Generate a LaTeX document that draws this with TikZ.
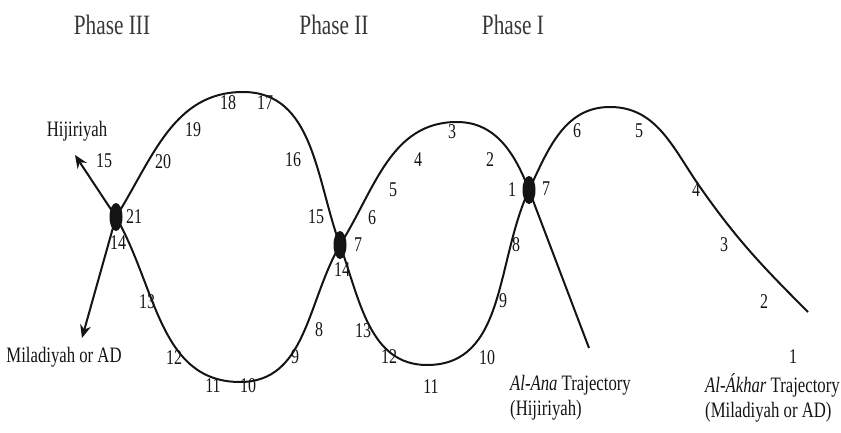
\documentclass[tikz,border=0pt]{standalone}
\usepackage{fontspec}
\setmainfont{Liberation Serif}[FakeStretch=0.76]
\usetikzlibrary{shapes.geometric,arrows.meta}
\usepackage{xcolor}
\definecolor{inkblack}{RGB}{20,20,20}
\tikzset{
    junction/.style={
        ellipse,
        fill=inkblack,
        inner sep=0pt,
        minimum width=13pt,
        minimum height=28pt
    },
    steplabel/.style={
        font=\fontsize{21}{24}\selectfont,
        text=inkblack,
        inner sep=0pt
    },
    phasetitle/.style={
        font=\fontsize{28}{32}\selectfont,
        text=inkblack!85
    },
    sidelabel/.style={
        font=\fontsize{22}{26}\selectfont,
        text=inkblack,
        inner sep=0pt
    },
    trajectory/.style={
        draw=inkblack,
        line width=2pt
    },
    exitarrow/.style={
        trajectory,
        -{Stealth[length=13pt,width=11pt]}
    }
}

\begin{document}
\begin{tikzpicture}[x=1pt,y=1pt]
\useasboundingbox (0,0) rectangle (841,432);

% ---------------------------------------------------------
% Phase titles
% ---------------------------------------------------------
\foreach \name/\x [count=\i] in {Phase III/112, Phase II/334, Phase I/513}
{
    \node[phasetitle] (phase\i) at (\x,407) {\name};
}

% ---------------------------------------------------------
% Junctions and turning points
% ---------------------------------------------------------
\node[junction] (nodeL) at (116,215) {};
\node[junction] (nodeM) at (340,187) {};
\node[junction] (nodeR) at (529,242) {};

\coordinate (topL) at (243,340);
\coordinate (botL) at (240,50);
\coordinate (topM) at (457,310);
\coordinate (botM) at (427,67);
\coordinate (topR) at (610,325);
\coordinate (bendR) at (700,245);
\coordinate (anaStart) at (589,84);
\coordinate (akharStart) at (808,120);
\coordinate (hijEnd) at (75,277);
\coordinate (milEnd) at (82,94);

% ---------------------------------------------------------
% Trajectories
% ---------------------------------------------------------

% Al-Ana: from bottom right up through the three junctions
\draw[exitarrow] (anaStart) -- (nodeR.center)
    to[out=111,in=0] (topM)
    to[out=180,in=58] (nodeM.center)
    to[out=240,in=0] (botL)
    to[out=180,in=-60] (nodeL.center)
    -- (hijEnd);

% Al-Akhar
\draw[exitarrow] (akharStart)
    to[out=135,in=-55] (bendR)
    to[out=125,in=0] (topR)
    to[out=180,in=65] (nodeR.center)
    to[out=245,in=0] (botM)
    to[out=180,in=-70] (nodeM.center)
    to[out=110,in=0] (topL)
    to[out=180,in=58] (nodeL.center)
    -- (milEnd);

% ---------------------------------------------------------
% Step numbers
% ---------------------------------------------------------
\foreach \x/\y [count=\i] in {
    793/75,
    764/130,
    724/187,
    696/242,
    639/301,
    577/301,
    546/243,
    516/187,
    503/131,
    487/74,
    431/45,
    389/75,
    363/101,
    342/162,
    316/215,
    293/272,
    265/329,
    228/329,
    193/302,
    163/270,
    134/215
}
{
    \node[steplabel] (akhar\i) at (\x,\y) {\i};
}

\foreach \x/\y [count=\i] in {
    512/242,
    490/272,
    452/300,
    418/272,
    393/242,
    372/214,
    358/187,
    319/102,
    295/75,
    248/46,
    213/46,
    174/74,
    147/130,
    118/189,
    104/271
}
{
    \node[steplabel] (ana\i) at (\x,\y) {\i};
}

% ---------------------------------------------------------
% Labels
% ---------------------------------------------------------
\node[sidelabel] (hijLabel) at (77,301) {Hijiriyah};
\node[sidelabel] (milLabel) at (64,75) {Miladiyah or AD};

\node[sidelabel, anchor=base west] (anaTitle) at (510,42) {\textit{Al-Ana} Trajectory};
\node[sidelabel, anchor=base west] (anaSub) at (510,17) {(Hijiriyah)};
\node[sidelabel, anchor=base west] (akharTitle) at (705,40) {\textit{Al-Ákhar} Trajectory};
\node[sidelabel, anchor=base west] (akharSub) at (705,15) {(Miladiyah or AD)};

\end{tikzpicture}
\end{document}
